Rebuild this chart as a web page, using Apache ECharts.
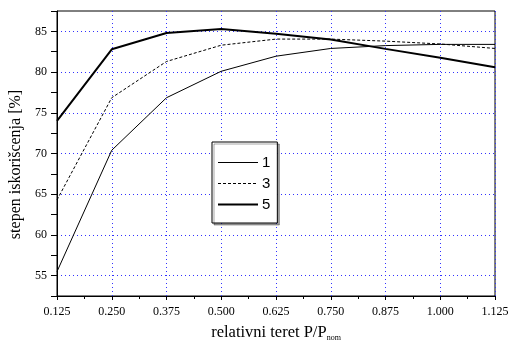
<!DOCTYPE html>
<html>
<head>
<meta charset="utf-8">
<script src="https://cdn.jsdelivr.net/npm/echarts@6/dist/echarts.min.js"></script>
<style>html,body{margin:0;padding:0;background:#fff;}#c{width:509px;height:341px;}</style>
</head>
<body>
<div id="c"></div>
<script>
var xValues = [0.125, 0.250, 0.375, 0.500, 0.625, 0.750, 0.875, 1.000, 1.125];
var seriesNames = ['1', '3', '5'];
var values1 = [55.5, 70.4, 76.85, 80.1, 81.95, 82.9, 83.25, 83.4, 83.4];
var values3 = [64.3, 76.85, 81.3, 83.3, 84.05, 84.05, 83.8, 83.45, 82.9];
var values5 = [74.0, 82.8, 84.8, 85.3, 84.7, 84.0, 82.85, 81.75, 80.6];
var xTickLabels = ['0.125','0.250','0.375','0.500','0.625','0.750','0.875','1.000','1.125'];

function pairs(v){ return xValues.map(function(x,i){ return [x, v[i]]; }); }

var chart = echarts.init(document.getElementById('c'));
var serif = 'Liberation Serif';
var gridBlue = 'rgb(50,50,255)';
var styles = [
  { color: '#000', width: 1, type: 'solid' },
  { color: '#000', width: 1, type: [3, 2] },
  { color: '#000', width: 2, type: 'solid' }
];
chart.setOption({
  animation: false,
  backgroundColor: '#fff',
  grid: { left: 57, right: 14, top: 11, bottom: 45, outerBoundsMode: 'none', containLabel: false,
    show: true, borderColor: '#000', borderWidth: 1, backgroundColor: 'transparent' },
  xAxis: {
    type: 'value', min: 0.125, max: 1.125, interval: 0.125,
    axisLine: { lineStyle: { color: '#000', width: 1 } },
    axisTick: { show: true, length: 4, lineStyle: { color: '#000' } },
    minorTick: { show: true, splitNumber: 2, length: 3, lineStyle: { color: '#000' } },
    axisLabel: { color: '#000', fontFamily: serif, fontSize: 12, margin: 10,
      formatter: function(v){ var i = Math.round((v-0.125)/0.125); return xTickLabels[i] || ''; } },
    splitLine: { show: true, lineStyle: { color: gridBlue, type: [1, 3], width: 1 } },
    name: '{a|relativni teret P/P}{b|nom}',
    nameLocation: 'middle', nameGap: 28,
    nameTextStyle: { rich: {
      a: { fontFamily: serif, fontSize: 16.5, color: '#000' },
      b: { fontFamily: serif, fontSize: 8, color: '#000', verticalAlign: 'bottom', padding: [10,0,0,0] }
    } }
  },
  yAxis: {
    type: 'value', min: 52.5, max: 87.5, interval: 2.5,
    axisLine: { show: true, lineStyle: { color: '#000', width: 1 } },
    axisTick: { show: true, length: 6, lineStyle: { color: '#000' } },
    axisLabel: { color: '#000', fontFamily: serif, fontSize: 12, margin: 10,
      formatter: function(v){ return (Math.abs(v % 5) < 1e-6) ? String(v) : ''; } },
    splitLine: { show: true, lineStyle: { color: ['rgba(255,255,255,0)', gridBlue], type: [1, 3], width: 1 } },
    name: 'stepen iskorišcenja [%]',
    nameLocation: 'middle', nameGap: 29,
    nameTextStyle: { fontFamily: serif, fontSize: 16, color: '#000', padding: [0, 22, 0, 0] }
  },
  legend: {
    orient: 'vertical', left: 212, top: 142,
    itemWidth: 40, itemHeight: 14, itemGap: 6,
    itemStyle: { opacity: 0 },
    padding: [13, 7, 11, 5],
    borderColor: '#000', borderWidth: 1, backgroundColor: '#fff',
    shadowColor: 'rgba(0,0,0,0.35)', shadowOffsetX: 2, shadowOffsetY: 2, shadowBlur: 0,
    textStyle: { fontFamily: 'Liberation Sans', fontSize: 15, lineHeight: 14, color: '#000', padding: [0,0,0,-1] },
    data: seriesNames.map(function(n, i){ return { name: n, lineStyle: styles[i] }; })
  },
  series: seriesNames.map(function(n, i){
    return { name: n, type: 'line', data: pairs([values1, values3, values5][i]), symbol: 'none', showSymbol: false,
      lineStyle: styles[i], itemStyle: { color: '#000' } };
  })
});
</script>
</body>
</html>
